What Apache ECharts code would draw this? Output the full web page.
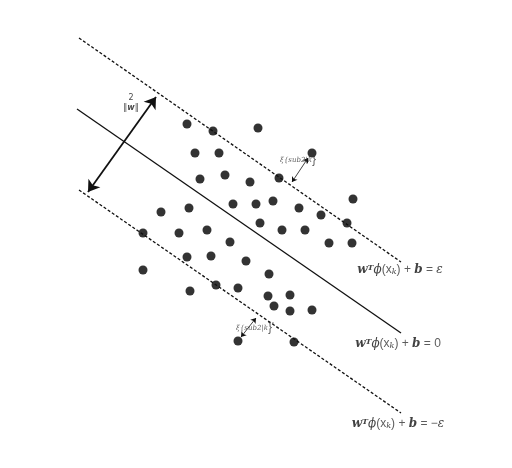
<!DOCTYPE html>
<html><head><meta charset="utf-8">
<script src="https://cdn.jsdelivr.net/npm/echarts@6/dist/echarts.min.js"></script>
<style>html,body{margin:0;background:#fff}#c{width:512px;height:468px}</style>
</head><body><div id="c"></div>
<script>
// diagram drawn in a 512x468 coordinate space
const upperLine = [[79, 38], [401, 262]]
const centerLine = [[77, 109], [401, 333]]
const lowerLine = [[79, 190], [401, 413]]
const marginArrow = [[88, 192], [156, 97]]
const xiArrow = [[292, 182], [308, 158]]
const xiStarArrow = [[241, 337], [256, 318]]
const points = [
  [187,124],[213,131],[258,128],[195,153],[219,153],[312,153],[200,179],[225,175],
  [250,182],[279,178],[353,199],[233,204],[256,204],[273,201],[299,208],[321,215],
  [347,223],[161,212],[189,208],[143,233],[179,233],[207,230],[230,242],[260,223],
  [282,230],[305,230],[329,243],[352,243],[143,270],[187,257],[211,256],[246,261],
  [269,274],[190,291],[216,285],[238,288],[268,296],[290,295],[274,306],[290,311],
  [312,310],[238,341],[294,342]
]
const labels = [
  { pos: [400, 270], text: '{bi|w}{sup|T}{i|ϕ}(x{sub|k}) + {bi|b} = {i|ε}' },
  { pos: [398, 344], text: '{bi|w}{sup|T}{i|ϕ}(x{sub|k}) + {bi|b} = 0' },
  { pos: [398, 424], text: '{bi|w}{sup|T}{i|ϕ}(x{sub|k}) + {bi|b} = −{i|ε}' },
  { pos: [131, 103], text: '{s|2}\n{s|‖}{sb|w}{s|‖}' },
  { pos: [298, 160], text: '{xs|ξ{sub2|k}}' },
  { pos: [255, 328], text: '{xs|ξ{sub2|k}}{sup2|*}' }
]

const rich = {
  bi: { fontFamily: 'DejaVu Serif', fontWeight: 'bold', fontStyle: 'italic', fontSize: 12, color: '#111' },
  i: { fontFamily: 'DejaVu Serif', fontStyle: 'italic', fontSize: 12, color: '#111' },
  sup: { fontFamily: 'DejaVu Serif', fontWeight: 'bold', fontStyle: 'italic', fontSize: 8, verticalAlign: 'top', color: '#111' },
  sub: { fontFamily: 'DejaVu Serif', fontStyle: 'italic', fontSize: 8, verticalAlign: 'bottom', color: '#111' },
  s: { fontFamily: 'DejaVu Sans', fontSize: 8, color: '#111', lineHeight: 10 },
  sb: { fontFamily: 'DejaVu Sans', fontSize: 8, fontWeight: 'bold', fontStyle: 'italic', color: '#111', lineHeight: 10 },
  xs: { fontFamily: 'DejaVu Serif', fontStyle: 'italic', fontSize: 7, color: '#333' },
  sub2: { fontSize: 5, color: '#333' },
  sup2: { fontSize: 5, color: '#333', verticalAlign: 'top' }
}

const lineSeries = (data, type) => ({
  type: 'line', data, symbol: 'none', silent: true,
  lineStyle: { color: '#111', width: 1.3, type }
})
const arrowSeries = (coords, size, width) => ({
  type: 'lines', coordinateSystem: 'cartesian2d', silent: true,
  symbol: ['arrow', 'arrow'], symbolSize: size,
  lineStyle: { color: '#111', width, opacity: 1 },
  data: [{ coords }]
})

const chart = echarts.init(document.getElementById('c'))
chart.setOption({
  animation: false,
  grid: { left: 0, right: 0, top: 0, bottom: 0 },
  xAxis: { type: 'value', min: 0, max: 512, show: false },
  yAxis: { type: 'value', min: 0, max: 468, inverse: true, show: false },
  series: [
    lineSeries(upperLine, [3, 2]),
    lineSeries(centerLine, 'solid'),
    lineSeries(lowerLine, [3, 2]),
    arrowSeries(marginArrow, 11, 1.8),
    arrowSeries(xiArrow, 5, 0.8),
    arrowSeries(xiStarArrow, 5, 0.8),
    {
      type: 'scatter', data: points, symbolSize: 9, silent: true,
      itemStyle: { color: '#000' }
    },
    {
      type: 'scatter', symbolSize: 0, silent: true,
      data: labels.map(l => ({ value: l.pos, label: { formatter: l.text } })),
      label: { show: true, position: 'inside', align: 'center', rich }
    }
  ]
})
</script></body></html>
